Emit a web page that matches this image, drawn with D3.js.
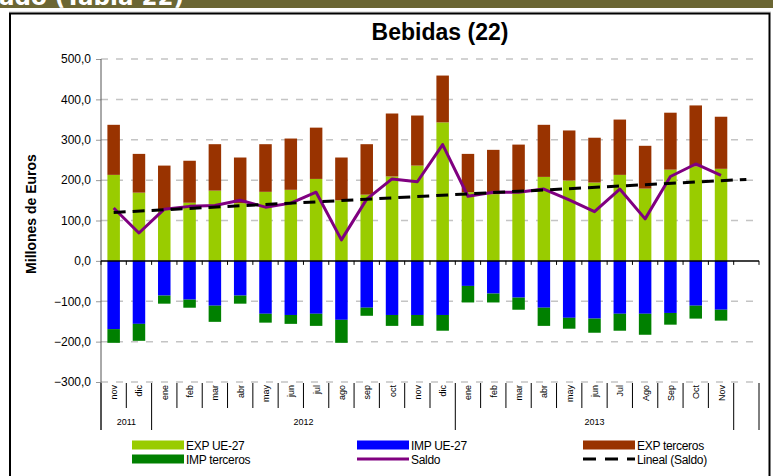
<!DOCTYPE html>
<html>
<head>
<meta charset="utf-8">
<script src="https://cdn.jsdelivr.net/npm/d3@7"></script>
<style>
  html, body { margin: 0; padding: 0; background: #fff; }
  svg { display: block; font-family: "Liberation Sans", Arial, sans-serif; }
</style>
</head>
<body>
<svg id="chart" width="773" height="476"></svg>
<script>
// Monthly trade in beverages (million euros), Nov 2011 – Nov 2013
const months = ["nov","dic","ene","feb","mar","abr","may","jun","jul","ago","sep","oct","nov","dic",
                "ene","feb","mar","abr","may","jun","Jul","Ago","Sep","Oct","Nov"];
const yearGroups = [
  { label: "2011", from: 0,  to: 2  },
  { label: "2012", from: 2,  to: 14 },
  { label: "2013", from: 14, to: 25 }
];
const expUE      = [213,169,128,144,174,143,171,176,203,150,164,209,236,343,170,165,174,208,199,194,213,179,226,234,228];
const expTerceros= [124, 96,108,104,115,113,118,127,127,106,125,156,124,116, 95,110,114,129,124,111,137,106,141,151,129];
const impUE      = [-169,-156,-86,-96,-111,-86,-131,-134,-131,-146,-116,-134,-134,-134,-62,-81,-91,-116,-141,-143,-131,-131,-129,-111,-121];
const impTerceros= [-34,-42,-20,-20,-40,-20,-22,-22,-30,-57,-20,-27,-27,-39,-41,-22,-30,-45,-27,-35,-42,-52,-29,-32,-27];
const saldo      = [131,69,128,135,137,150,133,143,170,52,153,203,196,288,160,170,170,178,151,122,178,104,209,240,212];
const yTicks     = [-300,-200,-100,0,100,200,300,400,500];

const colors = {
  expUE: "#99CC00", expTer: "#993300", impUE: "#0000FF", impTer: "#008000",
  saldo: "#800080", trend: "#000000"
};

const svg = d3.select("#chart");

// header band with the section heading
svg.append("clipPath").attr("id", "bandClip")
  .append("rect").attr("x", 0).attr("y", 0).attr("width", 773).attr("height", 8);
svg.append("rect").attr("x", 0).attr("y", 0).attr("width", 773).attr("height", 8).attr("fill", "#6B6633");
svg.append("text").attr("clip-path", "url(#bandClip)")
  .attr("x", -1).attr("y", 5)
  .attr("font-family", "DejaVu Sans, Verdana, sans-serif")
  .attr("font-weight", "bold").attr("font-size", 23)
  .attr("fill", "#fff")
  .text("ado (Tabla 22)");

// chart frame
svg.append("line").attr("x1", 9).attr("x2", 771).attr("y1", 12).attr("y2", 12)
  .attr("stroke", "#c8c8c8").attr("stroke-width", 1);
svg.append("rect").attr("x", 10).attr("y", 13.5).attr("width", 759.5).attr("height", 480)
  .attr("fill", "#fff").attr("stroke", "#000").attr("stroke-width", 2);

const pL = 101, pR = 759, pT = 59, pB = 382;
const nSlots = months.length + 1;   // one extra slot for the trend projection

const x = d3.scaleBand().domain(d3.range(nSlots)).range([pL, pR]).padding(0);
const y = d3.scaleLinear().domain([-300, 500]).range([pB, pT]);
const cx = i => x(i) + x.bandwidth() / 2;
const barW = 12.5;

// title
svg.append("text").attr("x", 440).attr("y", 40)
  .attr("text-anchor", "middle").attr("font-weight", "bold").attr("font-size", 23)
  .text("Bebidas (22)");

// horizontal grid
svg.append("g").selectAll("line").data(yTicks.filter(d => d !== 0)).join("line")
  .attr("x1", pL).attr("x2", pR)
  .attr("y1", d => y(d)).attr("y2", d => y(d))
  .attr("stroke", "#c4c4c4").attr("stroke-width", 1.5).attr("stroke-dasharray", "7,8");

// y axis
const yAxis = d3.axisLeft(y).tickValues(yTicks).tickSize(5).tickPadding(5)
  .tickFormat(d => d3.format(".1f")(d).replace(".", ","));
const gy = svg.append("g").attr("transform", `translate(${pL},0)`).call(yAxis);
gy.select(".domain").remove();
gy.selectAll(".tick line").attr("stroke", "#999");
gy.selectAll(".tick text").attr("font-size", 12).attr("fill", "#000")
  .attr("font-family", "Liberation Sans, Arial, sans-serif");
svg.append("line").attr("x1", pL).attr("x2", pL).attr("y1", pT).attr("y2", 430)
  .attr("stroke", "#555").attr("stroke-width", 1);

// y axis title
svg.append("text")
  .attr("transform", "translate(36,214) rotate(-90)")
  .attr("text-anchor", "middle").attr("font-weight", "bold").attr("font-size", 14)
  .text("Millones de Euros");

// stacked bars
const rows = months.map((m, i) => ({ i, expUE: expUE[i], expTer: expTerceros[i], impUE: impUE[i], impTer: impTerceros[i] }));
const bars = svg.append("g");
const seg = (base, val, color) => bars.append("g").selectAll("rect").data(rows).join("rect")
  .attr("x", d => cx(d.i) - barW / 2).attr("width", barW)
  .attr("y", d => Math.min(y(base(d)), y(base(d) + val(d))))
  .attr("height", d => Math.abs(y(base(d) + val(d)) - y(base(d))))
  .attr("fill", color);
seg(d => 0, d => d.expUE, colors.expUE);
seg(d => d.expUE, d => d.expTer, colors.expTer);
seg(d => 0, d => d.impUE, colors.impUE);
seg(d => d.impUE, d => d.impTer, colors.impTer);

// zero line with category ticks
svg.append("line").attr("x1", pL).attr("x2", pR).attr("y1", y(0)).attr("y2", y(0))
  .attr("stroke", "#000").attr("stroke-width", 1.5);
svg.append("g").selectAll("line").data(d3.range(nSlots + 1)).join("line")
  .attr("x1", i => pL + i * x.bandwidth()).attr("x2", i => pL + i * x.bandwidth())
  .attr("y1", y(0)).attr("y2", y(0) + 4)
  .attr("stroke", "#000").attr("stroke-width", 1);

// saldo line
const line = d3.line().x(d => cx(d.i)).y(d => y(d.v));
svg.append("path").datum(saldo.map((v, i) => ({ i, v })))
  .attr("d", line).attr("fill", "none")
  .attr("stroke", colors.saldo).attr("stroke-width", 3).attr("stroke-linejoin", "round");

// linear trend of saldo (least squares), projected one period ahead
const n = saldo.length;
const xs = d3.range(1, n + 1);
const mx = d3.mean(xs), my = d3.mean(saldo);
const slope = d3.sum(xs, (t, k) => (t - mx) * (saldo[k] - my)) / d3.sum(xs, t => (t - mx) ** 2);
const icpt = my - slope * mx;
svg.append("path")
  .datum([{ i: 0, v: icpt + slope * 1 }, { i: n, v: icpt + slope * (n + 1) }])
  .attr("d", line).attr("fill", "none")
  .attr("stroke", colors.trend).attr("stroke-width", 3).attr("stroke-dasharray", "12,7");

// category axis: month labels, separators and year groups
const catTop = pB + 1;
const gx = svg.append("g");
gx.selectAll("line.sep").data(d3.range(nSlots + 1)).join("line")
  .attr("class", "sep")
  .attr("x1", i => pL + i * x.bandwidth()).attr("x2", i => pL + i * x.bandwidth())
  .attr("y1", catTop).attr("y2", i => [0, 2, 14, 25, 26].includes(i) ? 430 : 408)
  .attr("stroke", "#000").attr("stroke-width", 1);
gx.selectAll("text.m").data(months).join("text")
  .attr("class", "m")
  .attr("transform", (m, i) => `translate(${cx(i) + 3.5},${catTop + 2}) rotate(-90)`)
  .attr("text-anchor", "end").attr("font-size", 9)
  .attr("font-family", "Liberation Sans Narrow, Arial Narrow, Liberation Sans, sans-serif")
  .text(m => m);
gx.selectAll("text.yr").data(yearGroups).join("text")
  .attr("class", "yr")
  .attr("x", g => (pL + g.from * x.bandwidth() + pL + g.to * x.bandwidth()) / 2)
  .attr("y", 425).attr("text-anchor", "middle").attr("font-size", 9)
  .text(g => g.label);

// legend
const legend = [
  { label: "EXP UE-27",      type: "rect", color: colors.expUE,  col: 0, row: 0 },
  { label: "IMP terceros",   type: "rect", color: colors.impTer, col: 0, row: 1 },
  { label: "IMP UE-27",      type: "rect", color: colors.impUE,  col: 1, row: 0 },
  { label: "Saldo",          type: "line", color: colors.saldo,  col: 1, row: 1 },
  { label: "EXP terceros",   type: "rect", color: colors.expTer, col: 2, row: 0 },
  { label: "Lineal (Saldo)", type: "dash", color: colors.trend,  col: 2, row: 1 }
];
const colX = [132, 357, 583], rowY = [445, 459], swW = 52;
const lg = svg.append("g").selectAll("g").data(legend).join("g")
  .attr("transform", d => `translate(${colX[d.col]},${rowY[d.row]})`);
lg.filter(d => d.type === "rect").append("rect")
  .attr("x", 0).attr("y", -4.5).attr("width", swW).attr("height", 9).attr("fill", d => d.color);
lg.filter(d => d.type !== "rect").append("line")
  .attr("x1", 0).attr("x2", swW).attr("y1", 0).attr("y2", 0)
  .attr("stroke", d => d.color).attr("stroke-width", 3)
  .attr("stroke-dasharray", d => d.type === "dash" ? "13,9" : null);
lg.append("text").attr("x", swW + 2).attr("y", 4.5).attr("font-size", 12)
  .attr("letter-spacing", -0.3)
  .text(d => d.label);
</script>
</body>
</html>
